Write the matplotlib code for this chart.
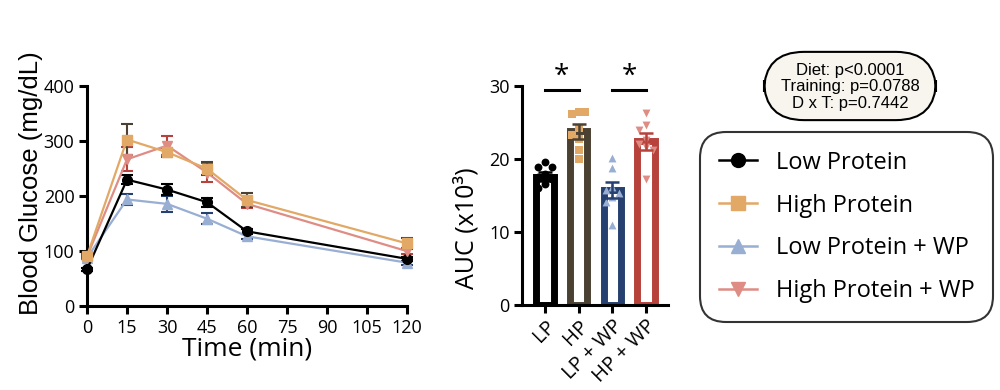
import matplotlib.pyplot as plt
import numpy as np
from matplotlib.patches import FancyBboxPatch
from matplotlib.lines import Line2D

plt.rcParams['font.family'] = ['Open Sans', 'DejaVu Sans']

# glucose tolerance curves
times = [0, 15, 30, 45, 60, 120]
lp_mean = [67, 230, 212, 189, 136, 86]
lp_err = [3, 8, 10, 8, 4, 3]
hp_mean = [91, 303, 280, 250, 193, 114]
hp_err = [4, 28, 8, 12, 13, 10]
lpwp_mean = [88, 194, 186, 159, 127, 79]
lpwp_err = [3, 10, 15, 10, 5, 4]
hpwp_mean = [90, 267, 292, 243, 186, 100]
hpwp_err = [4, 22, 18, 18, 8, 5]

# AUC
groups = ['LP', 'HP', 'LP + WP', 'HP + WP']
auc_mean = [17.6, 23.8, 15.7, 22.4]
auc_err = [0.6, 1.0, 1.1, 1.2]
lp_pts = [19.6, 18.9, 18.9, 18.0, 17.6, 17.2, 16.6, 16.0]
hp_pts = [26.5, 26.2, 26.5, 24.2, 23.3, 22.8, 21.2, 20.0]
lpwp_pts = [20.2, 18.8, 16.2, 15.8, 15.3, 14.8, 14.1, 11.0]
hpwp_pts = [26.3, 24.6, 24.0, 22.6, 22.0, 21.6, 21.2, 17.3]

names = ['Low Protein', 'High Protein', 'Low Protein + WP', 'High Protein + WP']
light = ['black', '#e2a865', '#98aed3', '#de8c84']
dark = ['black', '#4b4133', '#26416f', '#b7423c']
markers = ['o', 's', '^', 'v']


def swarm(vals, dy=0.9, dx=0.2):
    # simple beeswarm: put each point at the first free slot
    placed = []
    offs = []
    for v in vals:
        for k in [0, -1, 1, -2, 2]:
            o = k * dx
            if all(abs(o - po) >= dx * 0.99 or abs(v - pv) >= dy for po, pv in placed):
                break
        placed.append((o, v))
        offs.append(o)
    return np.array(offs)


fig = plt.figure(figsize=(10, 3.9), dpi=100)

# ---- left: glucose curve
ax = fig.add_axes([0.087, 0.215, 0.32, 0.564])
series = [(lp_mean, lp_err), (hp_mean, hp_err), (lpwp_mean, lpwp_err), (hpwp_mean, hpwp_err)]
for i in [2, 0, 3, 1]:
    m, e = series[i]
    ax.errorbar(times, m, yerr=e, color=light[i], ecolor=dark[i], marker=markers[i],
                markersize=7, linewidth=1.6, elinewidth=1.5, capsize=4, capthick=1.5,
                clip_on=False, zorder=3)
ax.set_xlim(0, 120)
ax.set_ylim(0, 400)
ax.set_xticks(range(0, 121, 15))
ax.set_yticks([0, 100, 200, 300, 400])
for s in ['top', 'right']:
    ax.spines[s].set_visible(False)
for s in ['left', 'bottom']:
    ax.spines[s].set_linewidth(2.2)
ax.tick_params(width=2.2, length=6, labelsize=13, pad=3)
ax.set_xlabel('Time (min)', fontsize=19, labelpad=0)
ax.set_ylabel('Blood Glucose (mg/dL)', fontsize=18.5, family=['Liberation Sans', 'DejaVu Sans'])
ax.yaxis.set_label_coords(-0.137, 0.56)

# ---- right: AUC bars
ax2 = fig.add_axes([0.522, 0.218, 0.146, 0.5615])
x = np.arange(len(groups))
pts = [lp_pts, hp_pts, lpwp_pts, hpwp_pts]
for i in range(4):
    ax2.bar(x[i], auc_mean[i], width=0.52, color='white', edgecolor=dark[i],
            linewidth=5, zorder=2)
    ax2.scatter(x[i] + swarm(pts[i]), pts[i], marker=markers[i], s=32, color=light[i],
                zorder=3, linewidths=0)
    ax2.errorbar(x[i], auc_mean[i], yerr=auc_err[i], color=dark[i], capsize=5,
                 elinewidth=1.8, capthick=1.8, zorder=4)
ax2.set_xlim(-0.68, 3.65)
ax2.set_ylim(0, 30)
ax2.set_yticks([0, 10, 20, 30])
ax2.set_xticks(x)
for s in ['top', 'right']:
    ax2.spines[s].set_visible(False)
for s in ['left', 'bottom']:
    ax2.spines[s].set_linewidth(2.2)
ax2.tick_params(width=2.2, length=6, labelsize=13, pad=3)
ax2.tick_params(axis='x', pad=2)
ax2.set_xticklabels(groups, rotation=45, ha='right', rotation_mode='anchor', fontsize=14.5)
ax2.set_ylabel('AUC (x10³)', fontsize=18)
ax2.yaxis.set_label_coords(-0.29, 0.35)
for a, b in [(0, 1), (2, 3)]:
    ax2.plot([a, b], [29.4, 29.4], color='black', linewidth=2.2, clip_on=False)
    ax2.text((a + b) / 2, 29.4, '*', ha='center', va='bottom', fontsize=20)

# ---- stats box
box = FancyBboxPatch((0.764, 0.692), 0.172, 0.175, boxstyle='round,pad=0,rounding_size=0.04',
                     transform=fig.transFigure, facecolor='#f8f4ee', edgecolor='black',
                     linewidth=1.5, mutation_aspect=2.56)
fig.patches.append(box)
fig.text(0.85, 0.777, 'Diet: p<0.0001\nTraining: p=0.0788\nD x T: p=0.7442', ha='center',
         va='center', fontsize=12, linespacing=1.1, family=['Liberation Sans', 'DejaVu Sans'])

# ---- legend
handles = [Line2D([], [], color=light[i], marker=markers[i], markersize=10, linewidth=1.8)
           for i in range(4)]
leg = fig.legend(handles, names, loc='upper left', bbox_to_anchor=(0.700, 0.662),
                 borderaxespad=0, fontsize=17, frameon=True, handlelength=1.6,
                 handletextpad=0.8, labelspacing=0.8, borderpad=0.8, fancybox=True)
leg.get_frame().set_edgecolor('black')
leg.get_frame().set_linewidth(1.5)
leg.get_frame().set_boxstyle('round,pad=0,rounding_size=1.1')

fig.savefig('out.png', dpi=100)
